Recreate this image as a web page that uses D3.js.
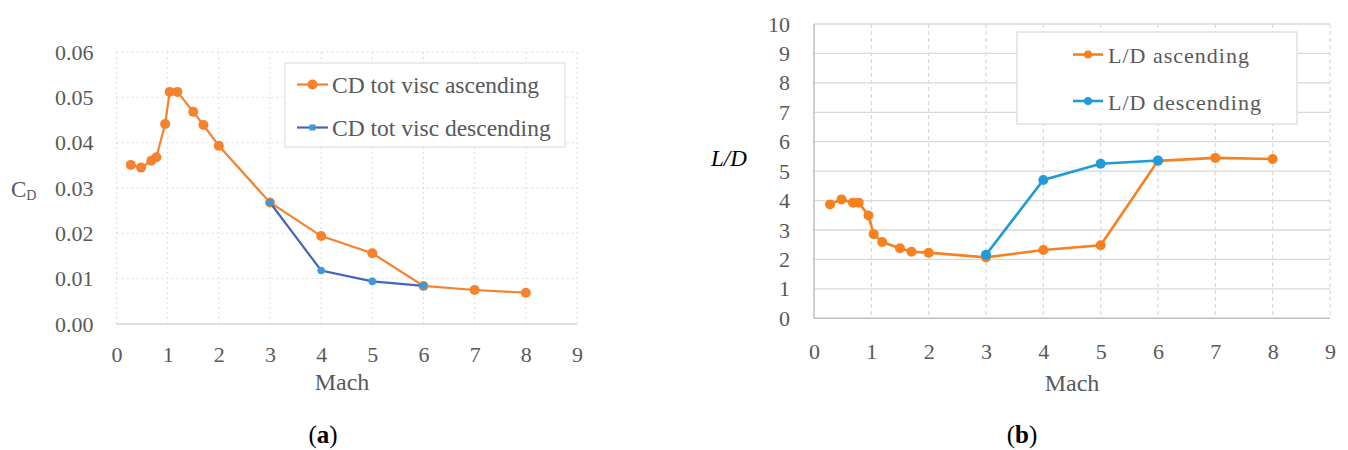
<!DOCTYPE html>
<html><head><meta charset="utf-8">
<script src="https://cdn.jsdelivr.net/npm/d3@7"></script>
<style>
html,body{margin:0;padding:0;background:#fff;}
text{font-family:"Liberation Serif","Times New Roman",serif;}
</style></head>
<body><svg id="c" width="1348" height="450"></svg>
<script>
// ---- data ----
const machAsc = [0.28,0.48,0.68,0.78,0.95,1.04,1.19,1.5,1.7,2,3,4,5,6,7,8];
const cdAsc   = [0.0351,0.0345,0.0360,0.0368,0.0441,0.0512,0.0512,0.0468,0.0439,0.0393,0.0268,0.0194,0.0156,0.0084,0.0075,0.0069];
const machDesc = [3,4,5,6];
const cdDesc   = [0.0268,0.0118,0.0094,0.0084];
const ldAsc   = [3.87,4.04,3.93,3.93,3.49,2.86,2.59,2.38,2.26,2.23,2.07,2.32,2.48,5.35,5.45,5.41];
const ldDesc  = [2.16,4.70,5.25,5.36];
const machTicks = [0,1,2,3,4,5,6,7,8,9];
const cdTicks = [0,0.01,0.02,0.03,0.04,0.05,0.06];
const ldTicks = [0,1,2,3,4,5,6,7,8,9,10];
const legendA = ["CD tot visc ascending","CD tot visc descending"];
const legendB = ["L/D ascending","L/D descending"];

const svg = d3.select("#c");
const TXT = "#595959";

// ================= Chart (a) =================
const xA = d3.scaleLinear().domain([0,9]).range([116.5,577]);
const yA = d3.scaleLinear().domain([0,0.06]).range([324,52]);
const gA = svg.append("g");
gA.selectAll(".vg").data(machTicks).join("line")
  .attr("x1",d=>xA(d)).attr("x2",d=>xA(d)).attr("y1",yA(0.06)).attr("y2",yA(0))
  .attr("stroke","#dcdcdc").attr("stroke-width",1).attr("stroke-dasharray","2,3");
gA.selectAll(".hg").data(cdTicks.slice(1)).join("line")
  .attr("x1",xA(0)).attr("x2",xA(9)).attr("y1",d=>yA(d)).attr("y2",d=>yA(d))
  .attr("stroke","#dcdcdc").attr("stroke-width",1).attr("stroke-dasharray","2,3");
gA.append("line").attr("x1",xA(0)).attr("x2",xA(9)).attr("y1",yA(0)).attr("y2",yA(0))
  .attr("stroke","#d4d4d4").attr("stroke-width",1.5);
const axA_x = gA.append("g").attr("transform",`translate(0,${yA(0)})`)
  .call(d3.axisBottom(xA).tickValues(machTicks).tickSize(0).tickPadding(22.5).tickFormat(d3.format("d")));
const axA_y = gA.append("g").attr("transform",`translate(${xA(0)},0)`)
  .call(d3.axisLeft(yA).tickValues(cdTicks).tickSize(0).tickPadding(23).tickFormat(d3.format(".2f")));
[axA_x,axA_y].forEach(a=>{a.select(".domain").remove();
  a.selectAll("text").attr("fill",TXT).style("font-size","22px").style("font-family","Liberation Serif");});
const lineA = d3.line().x(d=>xA(d[0])).y(d=>yA(d[1]));
const ascA = machAsc.map((m,i)=>[m,cdAsc[i]]);
const descA = machDesc.map((m,i)=>[m,cdDesc[i]]);
gA.append("path").datum(ascA).attr("d",lineA).attr("fill","none").attr("stroke","#F5822F").attr("stroke-width",2.2);
gA.selectAll(".pa").data(ascA).join("circle").attr("cx",d=>xA(d[0])).attr("cy",d=>yA(d[1])).attr("r",5).attr("fill","#F5822F");
gA.append("path").datum(descA).attr("d",lineA).attr("fill","none").attr("stroke","#4465BA").attr("stroke-width",2.2);
gA.selectAll(".pd").data(descA).join("circle").attr("cx",d=>xA(d[0])).attr("cy",d=>yA(d[1])).attr("r",3.8).attr("fill","#3E9AD6");
gA.append("text").attr("x",342).attr("y",390).attr("text-anchor","middle").attr("fill",TXT).style("font-size","24px").text("Mach");
const cdl = gA.append("text").attr("x",11).attr("y",197).attr("fill",TXT).style("font-size","23px");
cdl.append("tspan").text("C");
cdl.append("tspan").attr("dy",3).style("font-size","14px").text("D");
gA.append("rect").attr("x",285).attr("y",63).attr("width",280).attr("height",84).attr("fill","#fff").attr("stroke","#e0e0e0").attr("stroke-width",1.2);
const legAy = [84.5,127.5];
legendA.forEach((t,i)=>{
  const col = i===0?"#F5822F":"#4465BA";
  gA.append("line").attr("x1",297).attr("x2",328).attr("y1",legAy[i]).attr("y2",legAy[i]).attr("stroke",col).attr("stroke-width",2.2);
  if(i===0) gA.append("circle").attr("cx",312.5).attr("cy",legAy[i]).attr("r",5).attr("fill","#F5822F");
  else gA.append("rect").attr("x",309.5).attr("y",legAy[i]-3).attr("width",6).attr("height",6).attr("fill","#3E9AD6");
  gA.append("text").attr("x",332).attr("y",legAy[i]+8.5).attr("fill",TXT).style("font-size","23.5px").text(t);
});
const capA = gA.append("text").attr("x",323).attr("y",443).attr("text-anchor","middle").attr("fill","#000").style("font-size","25px");
capA.append("tspan").text("(");
capA.append("tspan").attr("font-weight","bold").text("a");
capA.append("tspan").text(")");

// ================= Chart (b) =================
const xB = d3.scaleLinear().domain([0,9]).range([814,1330]);
const yB = d3.scaleLinear().domain([0,10]).range([318.3,24]);
const gB = svg.append("g");
gB.selectAll(".hg").data(ldTicks.slice(1)).join("line")
  .attr("x1",xB(0)).attr("x2",xB(9)).attr("y1",d=>yB(d)).attr("y2",d=>yB(d))
  .attr("stroke","#d9d9d9").attr("stroke-width",1.3);
gB.selectAll(".vg").data(machTicks.slice(1)).join("line")
  .attr("x1",d=>xB(d)).attr("x2",d=>xB(d)).attr("y1",yB(10)).attr("y2",yB(0))
  .attr("stroke","#d9d9d9").attr("stroke-width",1.2).attr("stroke-dasharray","4,3");
gB.append("line").attr("x1",xB(0)).attr("x2",xB(0)).attr("y1",yB(10)).attr("y2",yB(0)).attr("stroke","#bfbfbf").attr("stroke-width",1.5);
gB.append("line").attr("x1",xB(0)).attr("x2",xB(9)).attr("y1",yB(0)).attr("y2",yB(0)).attr("stroke","#bfbfbf").attr("stroke-width",1.5);
const axB_x = gB.append("g").attr("transform",`translate(0,${yB(0)})`)
  .call(d3.axisBottom(xB).tickValues(machTicks).tickSize(0).tickPadding(25.5).tickFormat(d3.format("d")));
const axB_y = gB.append("g").attr("transform",`translate(${xB(0)},0)`)
  .call(d3.axisLeft(yB).tickValues(ldTicks).tickSize(0).tickPadding(24).tickFormat(d3.format("d")));
[axB_x,axB_y].forEach(a=>{a.select(".domain").remove();
  a.selectAll("text").attr("fill",TXT).style("font-size","22px").style("font-family","Liberation Serif");});
const lineB = d3.line().x(d=>xB(d[0])).y(d=>yB(d[1]));
const ascB = machAsc.map((m,i)=>[m,ldAsc[i]]);
const descB = machDesc.map((m,i)=>[m,ldDesc[i]]);
gB.append("path").datum(ascB).attr("d",lineB).attr("fill","none").attr("stroke","#F7801F").attr("stroke-width",2.6);
gB.selectAll(".pa").data(ascB).join("circle").attr("cx",d=>xB(d[0])).attr("cy",d=>yB(d[1])).attr("r",5).attr("fill","#F7801F");
gB.append("path").datum(descB).attr("d",lineB).attr("fill","none").attr("stroke","#1F9BD7").attr("stroke-width",2.6);
gB.selectAll(".pd").data(descB).join("circle").attr("cx",d=>xB(d[0])).attr("cy",d=>yB(d[1])).attr("r",5).attr("fill","#1F9BD7");
gB.append("text").attr("x",1072).attr("y",391).attr("text-anchor","middle").attr("fill",TXT).style("font-size","24px").text("Mach");
gB.append("text").attr("x",711).attr("y",166).attr("fill","#000").style("font-size","23px").style("font-style","italic").text("L/D");
gB.append("rect").attr("x",1017).attr("y",32).attr("width",280).attr("height",92).attr("fill","#fff").attr("stroke","#d9d9d9").attr("stroke-width",1.2);
const legBy = [54.5,101];
legendB.forEach((t,i)=>{
  const col = i===0?"#F7801F":"#1F9BD7";
  gB.append("line").attr("x1",1073).attr("x2",1103).attr("y1",legBy[i]).attr("y2",legBy[i]).attr("stroke",col).attr("stroke-width",2.6);
  gB.append("circle").attr("cx",1088).attr("cy",legBy[i]).attr("r",4).attr("fill",col);
  gB.append("text").attr("x",1108).attr("y",legBy[i]+8.5).attr("fill",TXT).style("font-size","22px").style("letter-spacing","1px").text(t);
});
const capB = gB.append("text").attr("x",1022).attr("y",443).attr("text-anchor","middle").attr("fill","#000").style("font-size","25px");
capB.append("tspan").text("(");
capB.append("tspan").attr("font-weight","bold").text("b");
capB.append("tspan").text(")");
</script>
</body></html>
